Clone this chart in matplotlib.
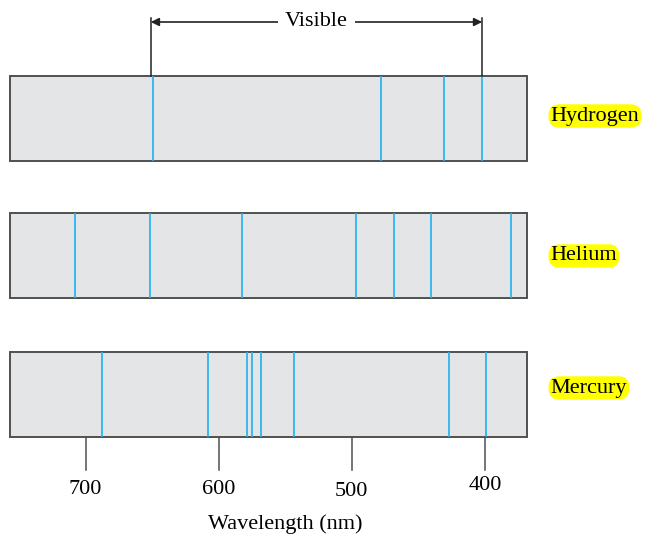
import matplotlib.pyplot as plt
from matplotlib.patches import Rectangle

# spektralne ciary (nm), odcitane z obrazka
ELEMENTS = ["Hydrogen", "Helium", "Mercury"]
HYDROGEN = [649.6, 478.3, 430.7, 402.3]
HELIUM = [707.9, 651.6, 582.4, 496.8, 468.1, 440.6, 380.7]
MERCURY = [687.8, 608.3, 579.0, 574.7, 568.5, 543.2, 427.3, 399.2]
TICKS = [700, 600, 500, 400]
TICK_LABEL_Y = [490, 490, 491, 486]
VISIBLE = (651, 402)
BOX_RANGE = (756.6, 368.4)

LINE_COLOR = "#2bb5ee"
FILL = "#e4e5e7"
EDGE = "#505050"
FONT = "Liberation Serif"
FS = 16

fig = plt.figure(figsize=(6.46, 5.35), dpi=100)
ax = fig.add_axes([0, 0, 1, 1])
# x v nm (obratene), y v pixeloch zhora
ax.set_xlim(764.3, 278.9)
ax.set_ylim(535, 0)
ax.axis("off")

tops = [76, 213, 352]
height = 85
spectra = [HYDROGEN, HELIUM, MERCURY]
label_y = [116, 256, 388]

for name, lines, top, ly in zip(ELEMENTS, spectra, tops, label_y):
    ax.add_patch(Rectangle((BOX_RANGE[0], top), BOX_RANGE[1] - BOX_RANGE[0], height,
                           facecolor=FILL, edgecolor=EDGE, linewidth=1.4, zorder=1))
    for lam in lines:
        ax.plot([lam, lam], [top + 0.8, top + height - 0.8], color=LINE_COLOR, lw=1.3, zorder=2)
    ax.text(350.5, ly, name, fontsize=FS, family=FONT, va="center", ha="left",
            bbox=dict(boxstyle="round,pad=0.1,rounding_size=0.5", fc="#ffff00", ec="none"))

# "Visible" sipka
for lam in VISIBLE:
    ax.plot([lam, lam], [18, 76], color="#222222", lw=1.1)
ax.annotate("", xy=(VISIBLE[0], 22), xytext=(VISIBLE[1], 22),
            arrowprops=dict(arrowstyle="<|-|>", color="#222222", lw=1.2,
                            shrinkA=0, shrinkB=0, mutation_scale=12))
ax.text(sum(VISIBLE) / 2, 21, "Visible", fontsize=FS, family=FONT, ha="center", va="center",
        bbox=dict(boxstyle="square,pad=0.3", fc="white", ec="none"))

# os vlnovej dlzky
bottom = tops[-1] + height
for t, ty in zip(TICKS, TICK_LABEL_Y):
    ax.plot([t, t], [bottom, bottom + 33], color=EDGE, lw=1.1)
    ax.text(t, ty, str(t), fontsize=FS, family=FONT, ha="center", va="center")
ax.text(550, 524, "Wavelength (nm)", fontsize=FS, family=FONT, ha="center", va="center")

fig.savefig("out.png", dpi=100)
